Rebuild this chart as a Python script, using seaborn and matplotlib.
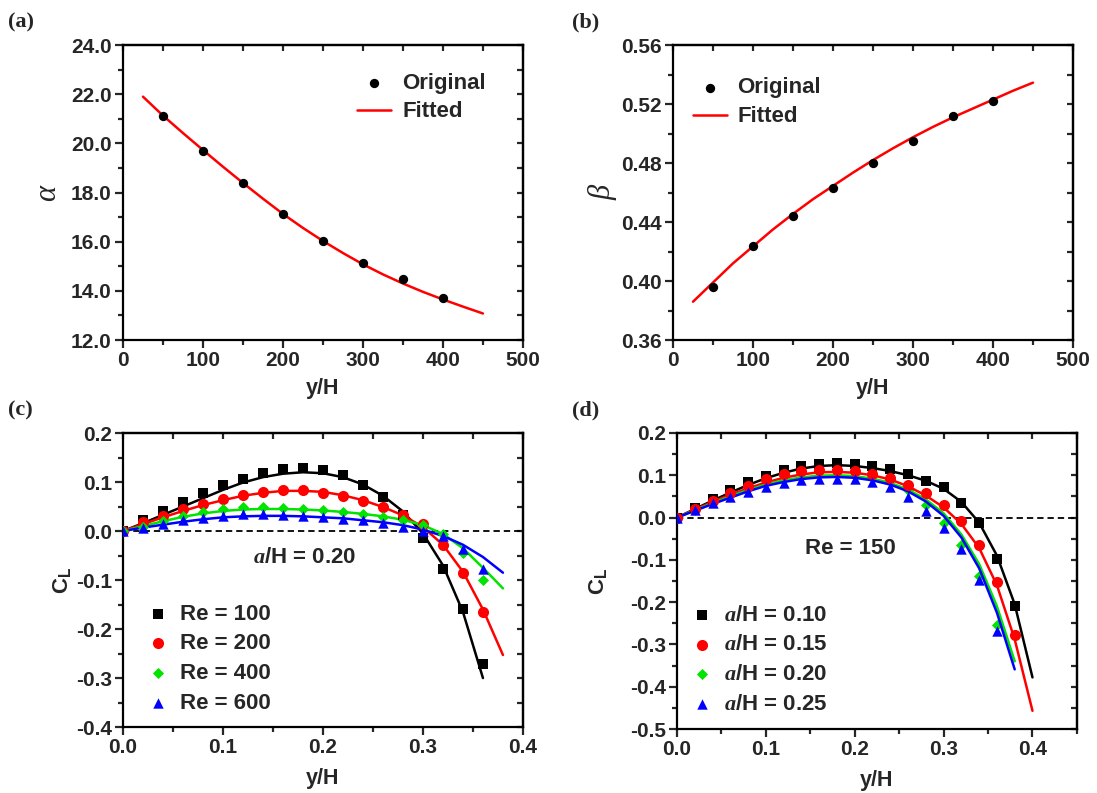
import numpy as np
import pandas as pd
import matplotlib
matplotlib.use('Agg')
import matplotlib.pyplot as plt
import seaborn as sns
from matplotlib.ticker import MultipleLocator, FormatStrFormatter

# ==========================================
# Data
# ==========================================
# (a) / (b): coefficients vs y/H
yh_orig = [50, 100, 150, 200, 250, 300, 350, 400]
alpha_orig = [21.12, 19.70, 18.37, 17.11, 16.03, 15.12, 14.50, 13.73]
beta_orig = [0.396, 0.4235, 0.4442, 0.4629, 0.4797, 0.4952, 0.5121, 0.5224]

yh_fit = [25, 50, 75, 100, 125, 150, 175, 200, 225, 250, 275, 300, 325, 350, 375, 400, 425, 450]
alpha_fit = [21.90, 21.13, 20.42, 19.73, 19.05, 18.39, 17.75, 17.13, 16.56, 16.03,
             15.54, 15.08, 14.67, 14.30, 13.96, 13.65, 13.36, 13.08]
beta_fit = [0.386, 0.399, 0.412, 0.4235, 0.435, 0.4455, 0.4555, 0.4645, 0.4735, 0.482,
            0.490, 0.4975, 0.5045, 0.511, 0.517, 0.523, 0.529, 0.5345]

# (c): lift coefficient, a/H = 0.20, several Re
pos_c = [0.00, 0.02, 0.04, 0.06, 0.08, 0.10, 0.12, 0.14, 0.16, 0.18,
         0.20, 0.22, 0.24, 0.26, 0.28, 0.30, 0.32, 0.34, 0.36, 0.38]
re_labels = ['Re = 100', 'Re = 200', 'Re = 400', 'Re = 600']
cl_re100 = [0.000, 0.022, 0.041, 0.059, 0.077, 0.094, 0.107, 0.119, 0.126, 0.129,
            0.124, 0.115, 0.095, 0.069, 0.032, -0.015, -0.078, -0.160, -0.272]
cl_re200 = [0.000, 0.018, 0.031, 0.046, 0.055, 0.065, 0.074, 0.080, 0.083, 0.083,
            0.078, 0.071, 0.061, 0.049, 0.033, 0.014, -0.029, -0.085, -0.165]
cl_re400 = [0.000, 0.008, 0.020, 0.030, 0.038, 0.044, 0.049, 0.049, 0.047, 0.044,
            0.042, 0.039, 0.034, 0.029, 0.023, 0.012, -0.007, -0.044, -0.100]
cl_re600 = [0.000, 0.007, 0.015, 0.022, 0.027, 0.031, 0.034, 0.034, 0.033, 0.031,
            0.028, 0.025, 0.022, 0.017, 0.009, 0.000, -0.010, -0.037, -0.078]
fit_re100 = [0.000, 0.016, 0.033, 0.050, 0.067, 0.084, 0.099, 0.110, 0.117, 0.120,
             0.118, 0.110, 0.095, 0.072, 0.040, -0.005, -0.070, -0.165, -0.300]
fit_re200 = [0.000, 0.014, 0.028, 0.041, 0.053, 0.063, 0.072, 0.078, 0.082, 0.082,
             0.080, 0.073, 0.063, 0.049, 0.032, 0.008, -0.028, -0.083, -0.160, -0.253]
fit_re400 = [0.000, 0.010, 0.020, 0.029, 0.036, 0.041, 0.044, 0.045, 0.045, 0.044,
             0.042, 0.039, 0.035, 0.030, 0.023, 0.012, -0.006, -0.035, -0.075, -0.117]
fit_re600 = [0.000, 0.007, 0.013, 0.019, 0.024, 0.028, 0.030, 0.031, 0.031, 0.030,
             0.028, 0.026, 0.022, 0.018, 0.012, 0.003, -0.010, -0.028, -0.053, -0.085]

# (d): lift coefficient, Re = 150, several a/H
pos_d = [0.00, 0.02, 0.04, 0.06, 0.08, 0.10, 0.12, 0.14, 0.16, 0.18, 0.20,
         0.22, 0.24, 0.26, 0.28, 0.30, 0.32, 0.34, 0.36, 0.38, 0.40]
ah_labels = [r'$\mathit{a}$/H = 0.10', r'$\mathit{a}$/H = 0.15',
             r'$\mathit{a}$/H = 0.20', r'$\mathit{a}$/H = 0.25']
cl_a010 = [0.000, 0.023, 0.045, 0.064, 0.083, 0.099, 0.112, 0.122, 0.127, 0.128,
           0.126, 0.121, 0.114, 0.102, 0.087, 0.072, 0.034, -0.013, -0.098, -0.209]
cl_a015 = [0.000, 0.020, 0.040, 0.058, 0.075, 0.090, 0.102, 0.109, 0.113, 0.113,
           0.110, 0.104, 0.094, 0.077, 0.057, 0.029, -0.009, -0.066, -0.152, -0.278]
cl_a020 = [0.000, 0.019, 0.038, 0.055, 0.072, 0.087, 0.099, 0.106, 0.110, 0.110,
           0.107, 0.100, 0.088, 0.065, 0.030, -0.012, -0.065, -0.138, -0.255]
cl_a025 = [0.000, 0.018, 0.034, 0.048, 0.061, 0.072, 0.081, 0.088, 0.091, 0.092,
           0.090, 0.084, 0.073, 0.049, 0.015, -0.025, -0.075, -0.147, -0.268]
fit_a010 = [0.000, 0.020, 0.040, 0.059, 0.077, 0.093, 0.106, 0.116, 0.122, 0.124, 0.122,
            0.117, 0.110, 0.100, 0.087, 0.068, 0.037, -0.012, -0.090, -0.205, -0.378]
fit_a015 = [0.000, 0.019, 0.037, 0.054, 0.069, 0.083, 0.094, 0.102, 0.107, 0.108, 0.106,
            0.100, 0.090, 0.074, 0.052, 0.024, -0.015, -0.072, -0.160, -0.288, -0.457]
fit_a020 = [0.000, 0.017, 0.034, 0.050, 0.065, 0.078, 0.088, 0.095, 0.099, 0.100,
            0.098, 0.092, 0.082, 0.066, 0.043, 0.010, -0.040, -0.110, -0.210, -0.340]
fit_a025 = [0.000, 0.016, 0.032, 0.047, 0.062, 0.075, 0.084, 0.091, 0.095, 0.096,
            0.094, 0.088, 0.078, 0.062, 0.038, 0.004, -0.047, -0.120, -0.225, -0.359]

# ==========================================
# Style
# ==========================================
sns.set_theme(style='ticks')
plt.rcParams['font.family'] = ['Liberation Sans', 'DejaVu Sans']
plt.rcParams['font.weight'] = 'bold'
plt.rcParams['axes.labelweight'] = 'bold'
plt.rcParams['axes.unicode_minus'] = False
plt.rcParams['mathtext.fontset'] = 'custom'
plt.rcParams['mathtext.rm'] = 'Liberation Sans:bold'
plt.rcParams['mathtext.it'] = 'Liberation Serif:italic:bold'
plt.rcParams['axes.linewidth'] = 1.6
plt.rcParams['axes.edgecolor'] = 'black'

TICK_FS = 15
TEXT_FS = 16
LABEL_FS = 15.5
GREEN = '#00e400'

fig = plt.figure(figsize=(10.97, 7.93), dpi=100)
ax_a = fig.add_axes([0.1121, 0.5712, 0.3646, 0.3720])
ax_b = fig.add_axes([0.6135, 0.5712, 0.3646, 0.3720])
ax_c = fig.add_axes([0.1121, 0.0832, 0.3646, 0.3707])
ax_d = fig.add_axes([0.6171, 0.0807, 0.3646, 0.3733])


def style_axis(ax, xlim, ylim, xmaj, xmin, ymaj, ymin, xfmt, yfmt):
    ax.set_xlim(*xlim)
    ax.set_ylim(*ylim)
    ax.xaxis.set_major_locator(MultipleLocator(xmaj))
    ax.xaxis.set_minor_locator(MultipleLocator(xmin))
    ax.yaxis.set_major_locator(MultipleLocator(ymaj))
    ax.yaxis.set_minor_locator(MultipleLocator(ymin))
    ax.xaxis.set_major_formatter(FormatStrFormatter(xfmt))
    ax.yaxis.set_major_formatter(FormatStrFormatter(yfmt))
    ax.tick_params(which='major', direction='out', length=6, width=1.6,
                   labelsize=TICK_FS, top=False, right=False, pad=2)
    ax.tick_params(which='minor', direction='out', length=3.5, width=1.6,
                   top=False, right=False)
    for lbl in ax.get_xticklabels() + ax.get_yticklabels():
        lbl.set_fontweight('bold')
    # mirrored inward ticks on top/right, as in Origin plots
    top = ax.secondary_xaxis('top')
    top.xaxis.set_major_locator(MultipleLocator(xmin))
    top.tick_params(direction='in', length=4.5, width=1.6, labeltop=False)
    top.spines['top'].set_linewidth(1.6)
    right = ax.secondary_yaxis('right')
    right.yaxis.set_major_locator(MultipleLocator(ymin))
    right.tick_params(direction='in', length=4.5, width=1.6, labelright=False)
    right.spines['right'].set_linewidth(1.6)


# ==========================================
# (a) alpha
# ==========================================
sns.lineplot(x=yh_fit, y=alpha_fit, ax=ax_a, color='red', lw=1.8, label='Fitted')
sns.scatterplot(x=yh_orig, y=alpha_orig, ax=ax_a, color='black', s=45,
                linewidth=0, label='Original', zorder=3)
style_axis(ax_a, (0, 500), (12, 24), 100, 50, 2, 1, '%d', '%.1f')
h, l = ax_a.get_legend_handles_labels()
ax_a.legend([h[1], h[0]], [l[1], l[0]], loc='upper left', bbox_to_anchor=(0.585, 0.905),
            frameon=False, fontsize=TEXT_FS, handlelength=1.55, handletextpad=0.5,
            labelspacing=0.33, borderpad=0, borderaxespad=0)
ax_a.set_xlabel('y/H', fontsize=LABEL_FS)
ax_a.set_ylabel('α', fontsize=22, family='Liberation Serif', style='italic',
                fontweight='normal', rotation=90)
ax_a.xaxis.set_label_coords(0.5, -0.13)
ax_a.yaxis.set_label_coords(-0.152, 0.5)

# ==========================================
# (b) beta
# ==========================================
sns.lineplot(x=yh_fit, y=beta_fit, ax=ax_b, color='red', lw=1.8, label='Fitted')
sns.scatterplot(x=yh_orig, y=beta_orig, ax=ax_b, color='black', s=45,
                linewidth=0, label='Original', zorder=3)
style_axis(ax_b, (0, 500), (0.36, 0.56), 100, 50, 0.04, 0.02, '%d', '%.2f')
h, l = ax_b.get_legend_handles_labels()
ax_b.legend([h[1], h[0]], [l[1], l[0]], loc='upper left', bbox_to_anchor=(0.05, 0.89),
            frameon=False, fontsize=TEXT_FS, handlelength=1.55, handletextpad=0.45,
            labelspacing=0.36, borderpad=0, borderaxespad=0)
ax_b.set_xlabel('y/H', fontsize=LABEL_FS)
ax_b.set_ylabel('β', fontsize=22, family='Liberation Serif', style='italic',
                fontweight='normal', rotation=90)
ax_b.xaxis.set_label_coords(0.5, -0.13)
ax_b.yaxis.set_label_coords(-0.14, 0.5)

# ==========================================
# (c) C_L vs y/H for different Re
# ==========================================
series_c = [
    (cl_re100, fit_re100, 'black', 's', 44),
    (cl_re200, fit_re200, 'red', 'o', 64),
    (cl_re400, fit_re400, GREEN, 'D', 32),
    (cl_re600, fit_re600, 'blue', '^', 56),
]
ax_c.axhline(0, color='black', lw=1.3, ls=(0, (3.5, 2.2)), zorder=1)
for (pts, fit, col, mk, sz), lab in zip(series_c, re_labels):
    sns.lineplot(x=pos_c[:len(fit)], y=fit, ax=ax_c, color=col, lw=1.8, zorder=2)
    sns.scatterplot(x=pos_c[:len(pts)], y=pts, ax=ax_c, color=col, marker=mk, s=sz,
                    linewidth=0, label=lab, zorder=3)
style_axis(ax_c, (0, 0.4), (-0.4, 0.2), 0.1, 0.05, 0.1, 0.05, '%.1f', '%.1f')
ax_c.legend(loc='upper left', bbox_to_anchor=(0.06, 0.42), frameon=False,
            fontsize=TEXT_FS, handlelength=1.0, handletextpad=0.5, labelspacing=0.39,
            borderpad=0, borderaxespad=0)
ax_c.text(0.182, -0.054, r'$\mathit{a}$/H = 0.20', fontsize=TEXT_FS, fontweight='bold',
          ha='center', va='center')
ax_c.set_xlabel('y/H', fontsize=LABEL_FS)
ax_c.set_ylabel(r'C$_\mathrm{L}$', fontsize=TEXT_FS)
ax_c.xaxis.set_label_coords(0.5, -0.14)
ax_c.yaxis.set_label_coords(-0.125, 0.5)

# ==========================================
# (d) C_L vs y/H for different a/H
# ==========================================
series_d = [
    (cl_a010, fit_a010, 'black', 's', 44, 3),
    (cl_a015, fit_a015, 'red', 'o', 64, 3),
    (cl_a020, fit_a020, GREEN, 'D', 32, 1.5),
    (cl_a025, fit_a025, 'blue', '^', 56, 3),
]
ax_d.axhline(0, color='black', lw=1.3, ls=(0, (3.5, 2.2)), zorder=1)
for (pts, fit, col, mk, sz, zo), lab in zip(series_d, ah_labels):
    sns.lineplot(x=pos_d[:len(fit)], y=fit, ax=ax_d, color=col, lw=1.8, zorder=2)
    sns.scatterplot(x=pos_d[:len(pts)], y=pts, ax=ax_d, color=col, marker=mk, s=sz,
                    linewidth=0, label=lab, zorder=zo)
style_axis(ax_d, (0, 0.45), (-0.5, 0.2), 0.1, 0.05, 0.1, 0.05, '%.1f', '%.1f')
ax_d.legend(loc='upper left', bbox_to_anchor=(0.035, 0.42), frameon=False,
            fontsize=TEXT_FS, handlelength=1.0, handletextpad=0.5, labelspacing=0.39,
            borderpad=0, borderaxespad=0)
ax_d.text(0.195, -0.074, 'Re = 150', fontsize=TEXT_FS, fontweight='bold',
          ha='center', va='center')
ax_d.set_xlabel('y/H', fontsize=LABEL_FS)
ax_d.set_ylabel(r'C$_\mathrm{L}$', fontsize=TEXT_FS)
ax_d.xaxis.set_label_coords(0.5, -0.14)
ax_d.yaxis.set_label_coords(-0.17, 0.5)

# panel letters
for txt, px, py in [('(a)', 8, 22), ('(b)', 572, 22), ('(c)', 8, 410), ('(d)', 572, 410)]:
    fig.text(px / 1097, 1 - py / 793, txt, family='Liberation Serif', fontweight='bold',
             fontsize=16, va='center', ha='left')

fig.savefig('out.png', dpi=100, facecolor='white')
